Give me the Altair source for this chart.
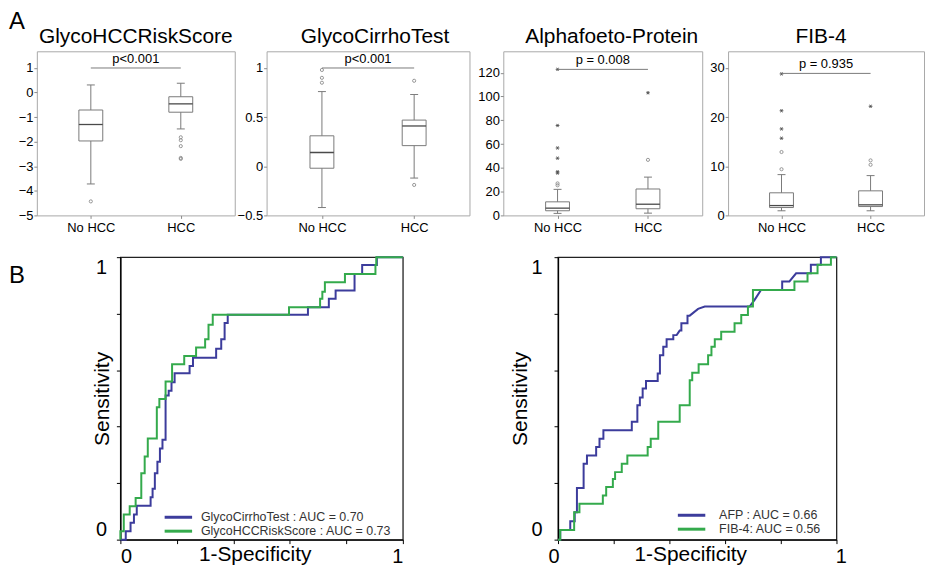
import altair as alt
import pandas as pd

FONT = "Liberation Sans"
GROUPS = ["No HCC", "HCC"]
STATS = ["lo", "q1", "med", "q3", "hi"]

# ---- Panel A: box-plot summaries [whisker low, Q1, median, Q3, whisker high] ----
RISK_NOHCC = [-3.72, -1.97, -1.30, -0.71, 0.31]
RISK_HCC = [-1.48, -0.80, -0.46, -0.17, 0.38]
RISK_CIRC_NOHCC = [-4.43]
RISK_CIRC_HCC = [-1.82, -1.94, -2.18, -2.66, -2.70]
RISK_STAR_NOHCC = []
RISK_STAR_HCC = []

CIRRHO_NOHCC = [-0.42, -0.02, 0.14, 0.31, 0.76]
CIRRHO_HCC = [-0.12, 0.21, 0.41, 0.47, 0.73]
CIRRHO_CIRC_NOHCC = [0.98, 0.90, 0.85]
CIRRHO_CIRC_HCC = [0.87, -0.19]
CIRRHO_STAR_NOHCC = []
CIRRHO_STAR_HCC = []

AFP_NOHCC = [1.7, 3.9, 6.1, 11.4, 21.9]
AFP_HCC = [1.9, 5.6, 9.4, 22.2, 32.2]
AFP_CIRC_NOHCC = [26.9, 25.3]
AFP_CIRC_HCC = [46.7]
AFP_STAR_NOHCC = [35.6, 36.7, 48.1, 56.7, 75.6, 122.8]
AFP_STAR_HCC = [103.1]

FIB4_NOHCC = [0.94, 1.6, 2.0, 4.6, 8.3]
FIB4_HCC = [0.94, 1.8, 2.15, 5.0, 8.1]
FIB4_CIRC_NOHCC = [9.4, 12.9]
FIB4_CIRC_HCC = [10.3, 11.2]
FIB4_STAR_NOHCC = [15.7, 17.6, 21.3, 28.8]
FIB4_STAR_HCC = [22.2]

PANEL_TITLES = ["GlycoHCCRiskScore", "GlycoCirrhoTest", "Alphafoeto-Protein", "FIB-4"]
P_TEXTS = ["p<0.001", "p<0.001", "p = 0.008", "p = 0.935"]
P_LEVELS = [1.0, 1.0, 122.8, 28.9]

# ---- Panel B: ROC curves, vertices [1-specificity, sensitivity] ----
ROC_CIRRHO = [
    [0, 0], [0.019, 0], [0.019, 0.030], [0.036, 0.030], [0.036, 0.060], [0.048, 0.060],
    [0.048, 0.089], [0.058, 0.089], [0.058, 0.120], [0.107, 0.120], [0.107, 0.150],
    [0.114, 0.150], [0.114, 0.180], [0.122, 0.180], [0.122, 0.235], [0.131, 0.235],
    [0.131, 0.276], [0.140, 0.276], [0.140, 0.323], [0.149, 0.323], [0.149, 0.354],
    [0.160, 0.354], [0.160, 0.510], [0.171, 0.510], [0.171, 0.527], [0.181, 0.527],
    [0.181, 0.557], [0.192, 0.557], [0.192, 0.589], [0.245, 0.589], [0.245, 0.615],
    [0.257, 0.615], [0.257, 0.644], [0.339, 0.644], [0.339, 0.676], [0.357, 0.676],
    [0.357, 0.709], [0.369, 0.709], [0.369, 0.767], [0.380, 0.767], [0.380, 0.796],
    [0.664, 0.796], [0.664, 0.823], [0.738, 0.823], [0.738, 0.853], [0.762, 0.853],
    [0.762, 0.882], [0.829, 0.882], [0.829, 0.940], [0.856, 0.940], [0.856, 0.972],
    [0.908, 0.972], [0.908, 1.0], [1.0, 1.0],
]
ROC_RISK = [
    [0, 0], [0, 0.030], [0.012, 0.030], [0.012, 0.089], [0.033, 0.089], [0.033, 0.118],
    [0.054, 0.118], [0.054, 0.147], [0.074, 0.147], [0.074, 0.235], [0.086, 0.235],
    [0.086, 0.294], [0.097, 0.294], [0.097, 0.358], [0.129, 0.358], [0.129, 0.469],
    [0.138, 0.469], [0.138, 0.498], [0.160, 0.498], [0.160, 0.560], [0.183, 0.560],
    [0.183, 0.621], [0.226, 0.621], [0.226, 0.650], [0.268, 0.650], [0.268, 0.680],
    [0.300, 0.680], [0.300, 0.709], [0.312, 0.709], [0.312, 0.761], [0.327, 0.761],
    [0.327, 0.796], [0.597, 0.796], [0.597, 0.823], [0.707, 0.823], [0.707, 0.853],
    [0.715, 0.853], [0.715, 0.878], [0.724, 0.878], [0.724, 0.911], [0.795, 0.911],
    [0.795, 0.940], [0.903, 0.940], [0.903, 0.972], [0.906, 0.972], [0.906, 1.0], [1.0, 1.0],
]
ROC_AFP = [
    [0, 0], [0.008, 0], [0.008, 0.034], [0.044, 0.034], [0.044, 0.065], [0.060, 0.065],
    [0.060, 0.097], [0.068, 0.097], [0.068, 0.183], [0.092, 0.183], [0.092, 0.269],
    [0.104, 0.269], [0.104, 0.298], [0.137, 0.298], [0.137, 0.328], [0.149, 0.328],
    [0.149, 0.357], [0.163, 0.357], [0.163, 0.387], [0.265, 0.387], [0.265, 0.417],
    [0.285, 0.417], [0.285, 0.476], [0.294, 0.476], [0.294, 0.503], [0.304, 0.503],
    [0.304, 0.535], [0.316, 0.535], [0.316, 0.562], [0.358, 0.562], [0.358, 0.588],
    [0.366, 0.588], [0.366, 0.653], [0.378, 0.653], [0.378, 0.683], [0.390, 0.683],
    [0.390, 0.709], [0.414, 0.709], [0.414, 0.724], [0.426, 0.724], [0.437, 0.740],
    [0.443, 0.740], [0.443, 0.766], [0.465, 0.766], [0.465, 0.793], [0.473, 0.793],
    [0.503, 0.817], [0.527, 0.825], [0.688, 0.825], [0.706, 0.849], [0.729, 0.884],
    [0.805, 0.884], [0.805, 0.914], [0.831, 0.914], [0.855, 0.943], [0.908, 0.943],
    [0.908, 0.973], [0.944, 0.973], [0.944, 1.0], [1.0, 1.0],
]
ROC_FIB4 = [
    [0, 0], [0.008, 0], [0.008, 0.034], [0.058, 0.034], [0.058, 0.097], [0.077, 0.097],
    [0.077, 0.127], [0.161, 0.127], [0.161, 0.156], [0.173, 0.156], [0.173, 0.186],
    [0.197, 0.186], [0.197, 0.215], [0.205, 0.215], [0.205, 0.239], [0.229, 0.239],
    [0.229, 0.269], [0.249, 0.269], [0.249, 0.298], [0.322, 0.298], [0.322, 0.328],
    [0.333, 0.328], [0.333, 0.357], [0.360, 0.357], [0.360, 0.417], [0.437, 0.417],
    [0.437, 0.476], [0.473, 0.476], [0.473, 0.564], [0.482, 0.564], [0.482, 0.591],
    [0.505, 0.591], [0.505, 0.621], [0.539, 0.621], [0.539, 0.653], [0.551, 0.653],
    [0.551, 0.683], [0.563, 0.683], [0.563, 0.709], [0.586, 0.709], [0.586, 0.736],
    [0.634, 0.736], [0.634, 0.766], [0.658, 0.766], [0.658, 0.795], [0.682, 0.795],
    [0.682, 0.825], [0.700, 0.825], [0.700, 0.884], [0.849, 0.884], [0.849, 0.914],
    [0.896, 0.914], [0.896, 0.943], [0.932, 0.943], [0.932, 0.973], [0.980, 0.973],
    [0.980, 1.0], [1.0, 1.0],
]
LEFT_NAMES = ["GlycoCirrhoTest : AUC = 0.70", "GlycoHCCRiskScore : AUC = 0.73"]
RIGHT_NAMES = ["AFP : AUC = 0.66", "FIB-4: AUC = 0.56"]
ROC_TICKS = [0, 0.2, 0.4, 0.6, 0.8, 1]

FRAME = "#a8a8a8"
BOXC = "#7a7a7a"
MEDC = "#4a4a4a"
TICKC = "#8a8a8a"
OUTC = "#8c8c8c"
STARC = "#505050"
BLUE = "#3c3c9c"
GREEN = "#34aa4c"
STAR = "M-1,0L1,0M-0.5,-0.87L0.5,0.87M-0.5,0.87L0.5,-0.87"


def points_df(no_vals, hcc_vals):
    return pd.DataFrame({"group": [GROUPS[0]] * len(no_vals) + [GROUPS[1]] * len(hcc_vals),
                         "value": list(no_vals) + list(hcc_vals)})


def label_layer(text, x, y, size, align="left", baseline="alphabetic"):
    return alt.Chart(pd.DataFrame({"t": [text]})).mark_text(
        font=FONT, fontSize=size, align=align, baseline=baseline, color="black"
    ).encode(x=alt.value(x), y=alt.value(y), text="t:N")


def box_panel(title, no, hc, circ_no, circ_hc, star_no, star_hc, p_text, p_y,
              y_dom, y_ticks, y_fmt, width, title_dx, y_extent, letter=None):
    stats = pd.DataFrame([dict(zip(STATS, no), group=GROUPS[0]),
                          dict(zip(STATS, hc), group=GROUPS[1])])
    xs = alt.Scale(type="point", domain=GROUPS, padding=0.6)
    ys = alt.Scale(domain=y_dom, nice=False, zero=False)
    xa = alt.Axis(title=None, labelAngle=0, labelFont=FONT, labelFontSize=13, labelColor="black",
                  tickColor=TICKC, tickSize=3, domain=False, grid=False, labelPadding=3,
                  minExtent=22, maxExtent=22)
    ya = alt.Axis(title=None, values=y_ticks, format=y_fmt, labelFont=FONT, labelFontSize=13,
                  labelColor="black", tickColor=TICKC, tickSize=3, domain=False, grid=False,
                  labelPadding=1, minExtent=y_extent, maxExtent=y_extent)
    X = alt.X("group:N", scale=xs, axis=xa)

    def Y(f):
        return alt.Y(f, scale=ys, axis=ya)

    base = alt.Chart(stats)
    layers = [
        base.mark_rule(color=BOXC, strokeWidth=1).encode(x=X, y=Y("lo:Q"), y2="hi:Q"),
        base.mark_bar(size=24, fill="white", stroke=BOXC, strokeWidth=1).encode(x=X, y=Y("q1:Q"), y2="q3:Q"),
        base.mark_tick(size=24, thickness=1.3, color=MEDC, opacity=1).encode(x=X, y=Y("med:Q")),
        base.mark_tick(size=8, thickness=1, color=BOXC, opacity=1).encode(x=X, y=Y("lo:Q")),
        base.mark_tick(size=8, thickness=1, color=BOXC, opacity=1).encode(x=X, y=Y("hi:Q")),
    ]
    if circ_no or circ_hc:
        layers.append(alt.Chart(points_df(circ_no, circ_hc)).mark_point(
            shape="circle", size=10, filled=False, color=OUTC, strokeWidth=0.9, opacity=1
        ).encode(x=X, y=Y("value:Q")))
    if star_no or star_hc:
        layers.append(alt.Chart(points_df(star_no, star_hc)).mark_point(
            shape=STAR, size=14, filled=False, color=STARC, strokeWidth=0.9, opacity=1
        ).encode(x=X, y=Y("value:Q")))
    sig = pd.DataFrame({"g1": [GROUPS[0]], "g2": [GROUPS[1]], "y": [p_y], "label": [p_text]})
    layers.append(alt.Chart(sig).mark_rule(color=BOXC, strokeWidth=1).encode(
        x=X, x2="g2:N", y=Y("y:Q")).transform_calculate(group="datum.g1"))
    layers.append(alt.Chart(sig).mark_text(font=FONT, fontSize=13, baseline="alphabetic",
                                           dy=-5, color="black").encode(
        x=alt.value(width / 2), y=Y("y:Q"), text="label:N"))
    # panel heading drawn as text just above the frame
    layers.append(label_layer(title, width / 2 + title_dx, -8, 21, align="center"))
    if letter:
        layers.append(label_layer(letter, -28, -22, 24))
    return alt.layer(*layers).properties(
        width=width, height=165,
        view=alt.ViewBackground(stroke=FRAME, strokeWidth=1),
    )


def roc_panel(names, curves, width, height, ytx, yty, xtx, ylabpad, xflush, y_extent,
              lx, ly, loff, rowpad):
    rows = []
    for name, curve in zip(names, curves):
        for i, (f, t) in enumerate(curve):
            rows.append({"series": name, "fpr": f, "tpr": t, "i": i})
    df = pd.DataFrame(rows)
    expr = "datum.value == 0 || datum.value == 1 ? datum.label : ''"
    common = dict(values=ROC_TICKS, format="~g", labelExpr=expr, labelFont=FONT, labelFontSize=20,
                  labelColor="black", labelOverlap=False, tickSize=4, tickColor="black",
                  tickWidth=1, domainColor="black", domainWidth=1.3, grid=False,
                  titleFont=FONT, titleFontSize=21, titleFontWeight="normal", titleColor="black",
                  titleBaseline="alphabetic", titleAlign="center")
    xa = alt.Axis(title="1-Specificity", labelFlush=True, labelFlushOffset=xflush, labelPadding=3,
                  titleX=xtx, titleY=21, **common)
    ya = alt.Axis(title="Sensitivity", labelFlush=True, labelPadding=ylabpad,
                  titleX=ytx, titleY=yty, titleAngle=270, minExtent=y_extent,
                  maxExtent=y_extent, **common)
    legend = alt.Legend(orient="none", legendX=lx, legendY=ly, title=None,
                        symbolType="M-2.3,0H2.3", symbolSize=144, symbolStrokeWidth=3,
                        labelFont=FONT, labelFontSize=12.5, labelColor="#333333",
                        labelOffset=loff, rowPadding=rowpad, padding=0, labelLimit=400)
    return alt.Chart(df).mark_line(strokeWidth=2).encode(
        x=alt.X("fpr:Q", scale=alt.Scale(domain=[0, 1], nice=False), axis=xa),
        y=alt.Y("tpr:Q", scale=alt.Scale(domain=[0, 1], nice=False), axis=ya),
        color=alt.Color("series:N", scale=alt.Scale(domain=names, range=[BLUE, GREEN]), legend=legend),
        order="i:Q",
    ).properties(width=width, height=height,
                 view=alt.ViewBackground(stroke="#222222", strokeWidth=1.3))


p1 = box_panel(PANEL_TITLES[0], RISK_NOHCC, RISK_HCC, RISK_CIRC_NOHCC, RISK_CIRC_HCC,
               RISK_STAR_NOHCC, RISK_STAR_HCC, P_TEXTS[0], P_LEVELS[0],
               [-5, 1.68], [-5, -4, -3, -2, -1, 0, 1], "d", 199, 0, 28, letter="A")
p2 = box_panel(PANEL_TITLES[1], CIRRHO_NOHCC, CIRRHO_HCC, CIRRHO_CIRC_NOHCC, CIRRHO_CIRC_HCC,
               CIRRHO_STAR_NOHCC, CIRRHO_STAR_HCC, P_TEXTS[1], P_LEVELS[1],
               [-0.5, 1.17], [-0.5, 0, 0.5, 1], "~g", 204, 7, 25)
p3 = box_panel(PANEL_TITLES[2], AFP_NOHCC, AFP_HCC, AFP_CIRC_NOHCC, AFP_CIRC_HCC,
               AFP_STAR_NOHCC, AFP_STAR_HCC, P_TEXTS[2], P_LEVELS[2],
               [0, 138], [0, 20, 40, 60, 80, 100, 120], "d", 200, 9, 32.5)
p4 = box_panel(PANEL_TITLES[3], FIB4_NOHCC, FIB4_HCC, FIB4_CIRC_NOHCC, FIB4_CIRC_HCC,
               FIB4_STAR_NOHCC, FIB4_STAR_HCC, P_TEXTS[3], P_LEVELS[3],
               [0, 33.4], [0, 10, 20, 30], "d", 197, -5, 24)

roc1 = roc_panel(LEFT_NAMES, [ROC_CIRRHO, ROC_RISK], 284, 284, -12, 142, 135, 10, 0, 40,
                 50.8, 254, 15.2, -1)
roc2 = roc_panel(RIGHT_NAMES, [ROC_AFP, ROC_FIB4], 280, 284, -32, 142, 133, 12, 10, 150,
                 126.8, 252, 20.2, -3)

# spacer cell carrying the panel letter "B"
spacer_b = alt.layer(
    alt.Chart(pd.DataFrame({"t": ["B"]})).mark_rect(opacity=0).encode(
        x=alt.value(0), x2=alt.value("width"), y=alt.value(0), y2=alt.value("height")),
    label_layer("B", -28, 7, 24, baseline="top"),
).properties(width=43, height=284, view=alt.ViewBackground(stroke="transparent", strokeWidth=0))

RES = dict(x="independent", y="independent", color="independent")

top = alt.hconcat(p1, p2, p3, p4, spacing=0).resolve_scale(**RES)
bottom = alt.hconcat(spacer_b, roc1, roc2, spacing=0).resolve_scale(**RES)

chart = alt.vconcat(top, bottom, spacing=14).resolve_scale(**RES).properties(
    padding={"left": 0, "top": 0, "right": 0, "bottom": 0}
).configure_view(stroke="transparent", strokeWidth=0).configure(font=FONT)

chart.save("out.html", embed_options={"renderer": "svg", "actions": False})
